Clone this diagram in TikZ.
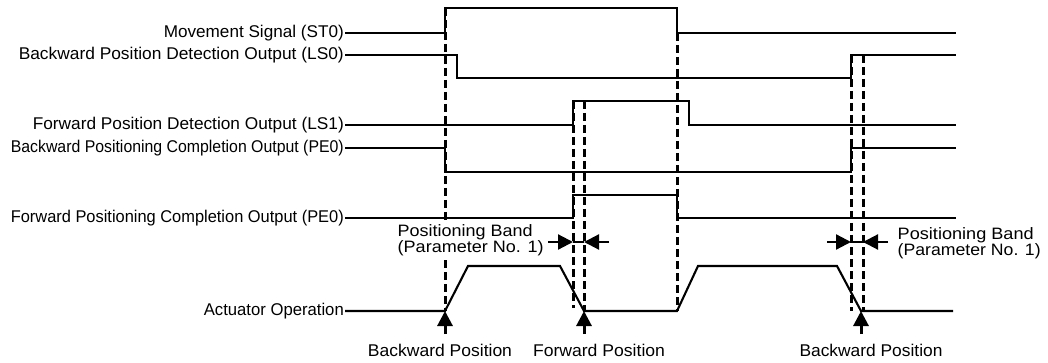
\documentclass[tikz,border=0pt]{standalone}
\usepackage{fontspec}
\usepackage{graphicx}
\setmainfont{Liberation Sans}
\usetikzlibrary{arrows.meta}
\newcommand{\wfit}[2]{\resizebox{#1pt}{\height}{#2}}
\begin{document}
\begin{tikzpicture}[x=1pt,y=-1pt,
  lbl/.style={anchor=east,inner sep=1pt,font=\fontsize{17}{19}\selectfont},
  txt/.style={inner sep=0.5pt,font=\fontsize{16.5}{14.5}\selectfont,align=left},
  sig/.style={line width=2.1pt,line join=miter},
  guide/.style={line width=3pt,dash pattern=on 8pt off 4pt},
  uparrow/.style={line width=3pt,-{Triangle[width=15pt,length=15pt]}},
  bandarrow/.style={line width=2.2pt,-{Triangle[width=15pt,length=15pt]}}]
\useasboundingbox (0,0) rectangle (1048,363);

% signal start points
\coordinate (a1) at (345,33);
\coordinate (a2) at (345,55);
\coordinate (a3) at (345,125);
\coordinate (a4) at (345,148);
\coordinate (a5) at (345,218);
\coordinate (a6) at (345,311);

% dashed guide lines
\coordinate (g1t) at (445,8);   \coordinate (g1b) at (445,311);
\coordinate (g2t) at (573,101); \coordinate (g2b) at (573,308);
\coordinate (g3t) at (584,101); \coordinate (g3b) at (584,311);
\coordinate (g4t) at (677,33);  \coordinate (g4b) at (677,311);
\coordinate (g5t) at (851,55);  \coordinate (g5b) at (851,311);
\coordinate (g6t) at (863,55);  \coordinate (g6b) at (863,311);
\foreach \i in {1,...,6} {\draw[guide] (g\i t) -- (g\i b);}

% labels
\node[lbl] (l1) at (a1) {\wfit{180}{Movement Signal (ST0)}};
\node[lbl] (l2) at (a2) {\wfit{325}{Backward Position Detection Output (LS0)}};
\node[lbl] (l3) at (a3) {\wfit{311}{Forward Position Detection Output (LS1)}};
\node[lbl] (l4) at (a4) {\wfit{333}{Backward Positioning Completion Output (PE0)}};
\node[lbl] (l5) at (a5) {\wfit{333}{Forward Positioning Completion Output (PE0)}};
\node[lbl] (l6) at (a6) {\wfit{140}{Actuator Operation}};

% signals
\draw[sig] (l1.east) -- (445,33) -- (445,8) -- (677,8) -- (677,33) -- (956,33);
\draw[sig] (l2.east) -- (457,55) -- (457,78) -- (851,78) -- (851,55) -- (956,55);
\draw[sig] (l3.east) -- (573,125) -- (573,101) -- (689,101) -- (689,125) -- (956,125);
\draw[sig] (l4.east) -- (445,148) -- (445,172) -- (851,172) -- (851,148) -- (956,148);
\draw[sig] (l5.east) -- (573,218) -- (573,195) -- (677,195) -- (677,218) -- (956,218);
\draw[sig] (l6.east) -- (445,311) -- (468,266) -- (560,266) -- (584,311) -- (677,311)
  -- (698,266) -- (837,266) -- (861,311) -- (953,311);

% positioning band texts
\node[txt,anchor=north west,fill=white] (pb1) at (397,223.5)
  {\wfit{135}{Positioning Band}\\\wfit{146}{(Parameter No. 1)}};
\node[txt,anchor=north west] (pb2) at (897,226.5)
  {\wfit{136}{Positioning Band}\\\wfit{143}{(Parameter No. 1)}};

% positioning band arrows
\coordinate (b1l) at (548,242); \coordinate (b1r) at (609,242);
\coordinate (b2l) at (827,242); \coordinate (b2r) at (888,242);
\draw[bandarrow] (b1l) -- (g2t |- b1l);
\draw[bandarrow] (b1r) -- (g3t |- b1r);
\draw[line width=1.8pt] (g2t |- b1l) -- (g3t |- b1r);
\draw[bandarrow] (b2l) -- (g5t |- b2l);
\draw[bandarrow] (b2r) -- (g6t |- b2r);
\draw[line width=1.8pt] (g5t |- b2l) -- (g6t |- b2r);

% position arrows and labels
\node[lbl,anchor=center] (p1) at (440,350.5) {\wfit{144}{Backward Position}};
\node[lbl,anchor=center] (p2) at (599,350.5) {\wfit{132}{Forward Position}};
\node[lbl,anchor=center] (p3) at (871,350.5) {\wfit{143}{Backward Position}};
\coordinate (t1) at (445,311);
\coordinate (t2) at (584,311);
\coordinate (t3) at (861,311);
\draw[uparrow] (445,334) -- (t1);
\draw[uparrow] (584,334) -- (t2);
\draw[uparrow] (861,334) -- (t3);
\end{tikzpicture}
\end{document}
